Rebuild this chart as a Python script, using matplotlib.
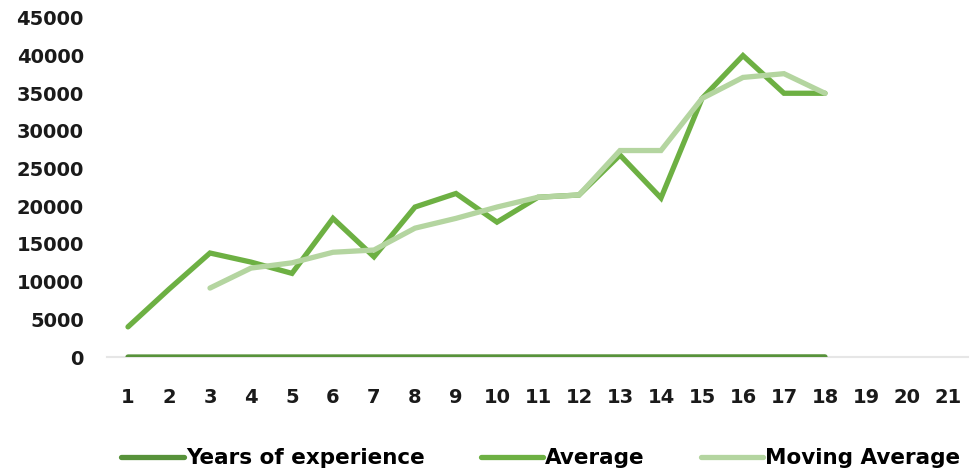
import matplotlib
matplotlib.use('Agg')
import matplotlib.pyplot as plt
import numpy as np

# data
categories = list(range(1, 22))
years_exp = list(range(1, 19))
average = [4000, 9000, 13800, 12600, 11100, 18400, 13300, 19900, 21700, 17900,
           21200, 21500, 26800, 21100, 34300, 40000, 35000, 35000]
moving_avg = [9150, 11800, 12500, 13900, 14200, 17100, 18400, 19900,
              21200, 21500, 27400, 27400, 34300, 37100, 37600, 35000]

c_years = '#57923a'
c_avg = '#6db043'
c_mov = '#b4d5a0'

plt.rcParams['font.family'] = ['DejaVu Sans']
plt.rcParams['font.weight'] = 'bold'

fig = plt.figure(figsize=(9.71, 4.71), dpi=100)
ax = fig.add_axes([0.1107, 0.242, 0.8867, 0.720])

x_years = np.arange(len(years_exp))
x_avg = np.arange(len(average))
x_mov = np.arange(2, 2 + len(moving_avg))

ax.plot(x_years, years_exp, color=c_years, lw=3.8, label='Years of experience',
        solid_capstyle='round', zorder=3)
ax.plot(x_avg, average, color=c_avg, lw=3.8, label='Average',
        solid_capstyle='round', solid_joinstyle='miter', zorder=4)
ax.plot(x_mov, moving_avg, color=c_mov, lw=3.8, label='Moving Average',
        solid_capstyle='round', solid_joinstyle='miter', zorder=5)

ax.set_xlim(-0.5, len(categories) - 0.5)
ax.set_ylim(0, 45000)
ax.set_yticks(np.arange(0, 45001, 5000))
ax.set_yticklabels([str(v) for v in range(0, 45001, 5000)])
ax.set_xticks(np.arange(len(categories)))
ax.set_xticklabels([str(c) for c in categories])

for s in ['top', 'right', 'left']:
    ax.spines[s].set_visible(False)
ax.spines['bottom'].set_color('#e6e6e6')
ax.spines['bottom'].set_linewidth(1.5)
ax.tick_params(axis='both', length=0, labelsize=14, colors='#1a1a1a')
ax.tick_params(axis='y', pad=17)
ax.tick_params(axis='x', pad=22)

fig.legend(loc='lower center', bbox_to_anchor=(0.557, -0.035), ncol=3, frameon=False,
           fontsize=15.5, handlelength=2.9, handletextpad=0.1, columnspacing=2.6)

fig.savefig('out.png', dpi=100)
